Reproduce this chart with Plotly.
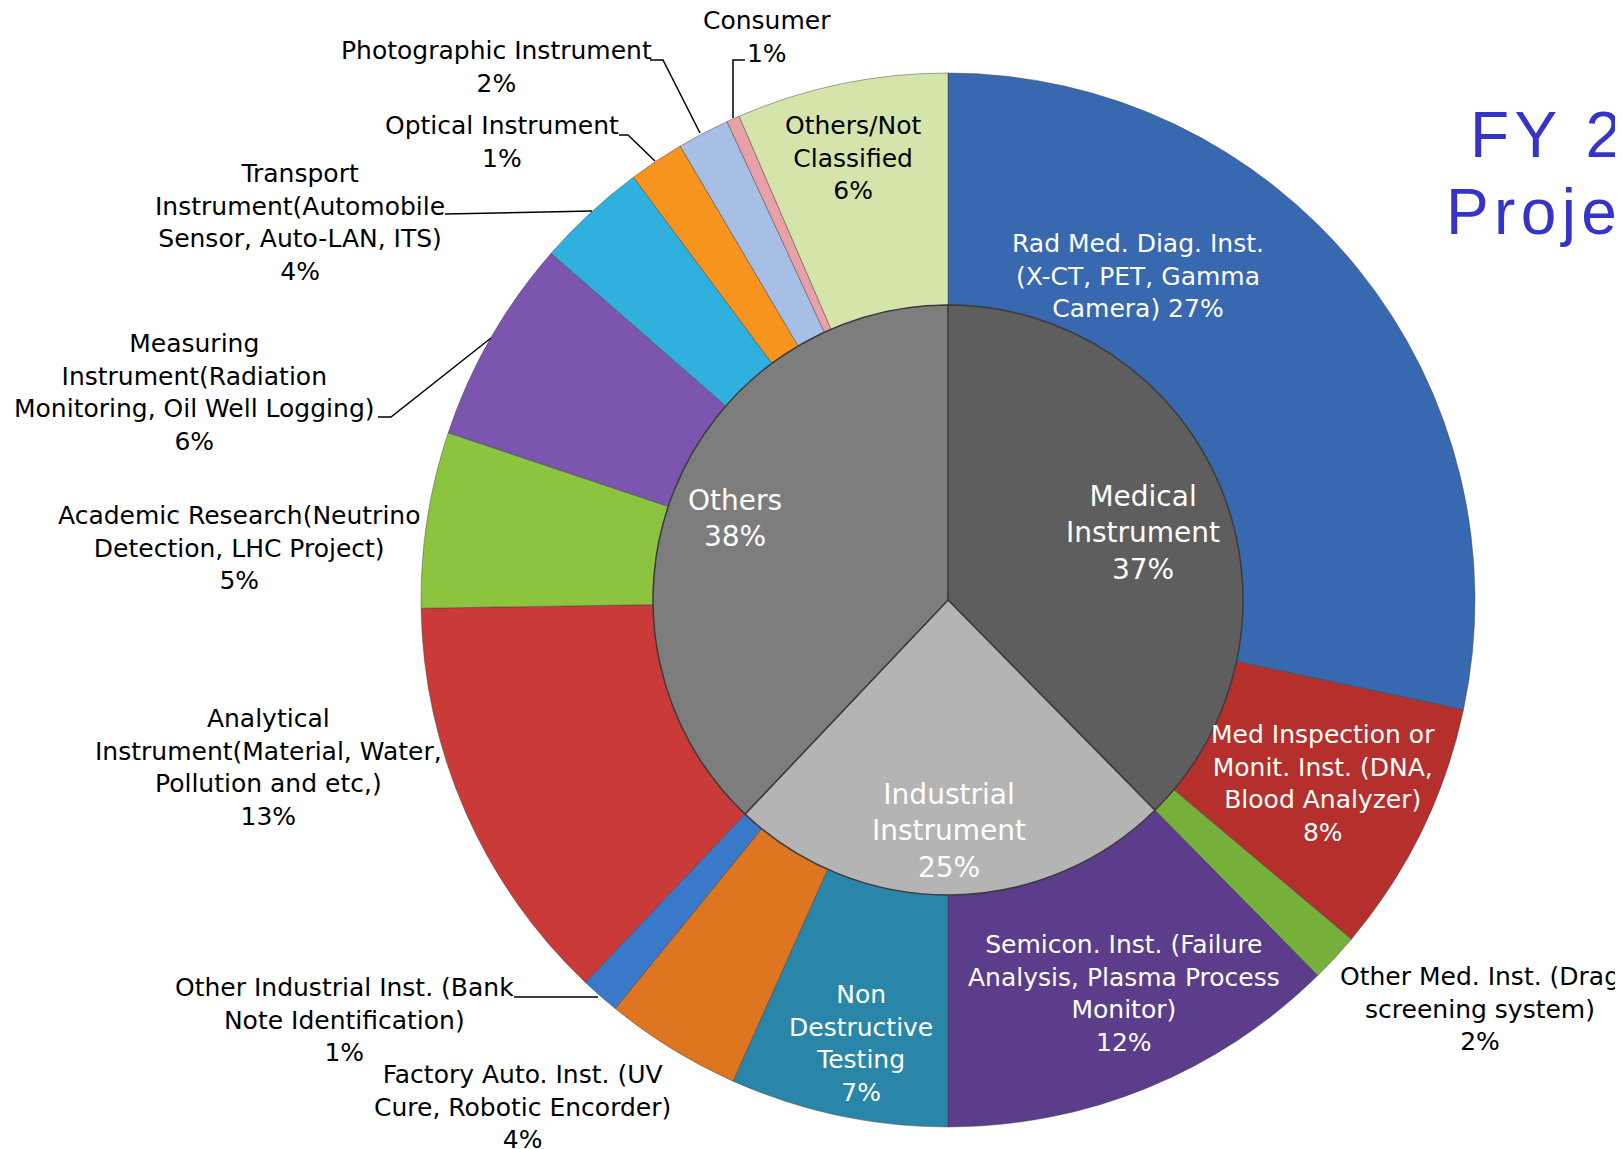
"""
Photodetector market breakdown: two-level pie (category / application).
"""

import plotly.graph_objects as go

W, H = 1623, 1149
PAGE_OFF = 8  # default body margin of the html page

# inner ring: market category
inner_labels = ["Medical<br>Instrument", "Industrial<br>Instrument", "Others"]
inner_values = [37.7, 24.5, 38.0]
inner_pct = [37, 25, 38]
inner_colors = ["#5e5e5e", "#b4b4b4", "#7d7d7d"]

# outer ring: application, clockwise from 12 o'clock
outer_labels = [
    "Rad Med. Diag. Inst.<br>(X-CT, PET, Gamma<br>Camera)",
    "Med Inspection or<br>Monit. Inst. (DNA,<br>Blood Analyzer)",
    "Other Med. Inst. (Drag<br>screening system)",
    "Semicon. Inst. (Failure<br>Analysis, Plasma Process<br>Monitor)",
    "Non<br>Destructive<br>Testing",
    "Factory Auto. Inst. (UV<br>Cure, Robotic Encorder)",
    "Other Industrial Inst. (Bank<br>Note Identification)",
    "Analytical<br>Instrument(Material, Water,<br>Pollution and etc,)",
    "Academic Research(Neutrino<br>Detection, LHC Project)",
    "Measuring<br>Instrument(Radiation<br>Monitoring, Oil Well Logging)",
    "Transport<br>Instrument(Automobile<br>Sensor, Auto-LAN, ITS)",
    "Optical Instrument",
    "Photographic Instrument",
    "Consumer",
    "Others/Not<br>Classified",
]
outer_values = [28.4, 7.8, 1.5, 12.4, 6.7, 4.2, 1.2, 12.7, 5.4, 6.3, 3.4, 1.7, 1.6, 0.4, 6.5]
outer_pct = [27, 8, 2, 12, 7, 4, 1, 13, 5, 6, 4, 1, 2, 1, 6]
outer_colors = [
    "#3768b0", "#b5302c", "#77b03a", "#5c3d8c", "#2a86a8",
    "#de7520", "#3a78c9", "#c93a38", "#8dc43f", "#7b55b0",
    "#30b0dc", "#f7941d", "#a8bfe5", "#e9a1a8", "#d4e4ab",
]

# label placement (pixel centre of text block) and text colour
outer_label_pos = [
    (1138, 276), (1323, 783), (1480, 1009), (1124, 993), (861, 1043),
    (522, 1107), (344, 1020), (268, 767), (240, 548), (194, 392),
    (300, 222), (502, 142), (496, 67), (767, 37), (853, 158),
]
outer_label_col = ["white", "white", "black", "white", "white",
                   "black", "black", "black", "black", "black",
                   "black", "black", "black", "black", "black"]
inner_label_pos = [(1143, 533), (949, 831), (735, 518)]

# leader lines (pixel polylines)
leaders = [
    [(514, 997), (598, 997)],
    [(378, 417), (391, 417), (491, 338)],
    [(445, 214), (592, 211)],
    [(619, 135), (628, 135), (655, 161)],
    [(650, 60), (663, 60), (700, 133)],
    [(745, 60), (733, 60), (733, 118)],
]

CX, CY, R_OUT, R_IN = 948, 600, 527, 295
FONT = "DejaVu Sans, Liberation Sans, Arial"


def px(x):
    return (x - PAGE_OFF) / W


def py(y):
    return 1 - (y - PAGE_OFF) / H


fig = go.Figure()

fig.add_trace(go.Pie(
    labels=outer_labels, values=outer_values,
    sort=False, direction="clockwise", rotation=0,
    hole=R_IN / R_OUT, textinfo="none",
    marker=dict(colors=outer_colors, line=dict(color="rgba(60,60,60,0.45)", width=1)),
    domain=dict(x=[px(CX - R_OUT), px(CX + R_OUT)], y=[py(CY + R_OUT), py(CY - R_OUT)]),
    showlegend=False, hoverinfo="label+percent",
))

fig.add_trace(go.Pie(
    labels=inner_labels, values=inner_values,
    sort=False, direction="clockwise", rotation=0, textinfo="none",
    marker=dict(colors=inner_colors, line=dict(color="#3c3c3c", width=1.5)),
    domain=dict(x=[px(CX - R_IN), px(CX + R_IN)], y=[py(CY + R_IN), py(CY - R_IN)]),
    showlegend=False, hoverinfo="label+percent",
))

annotations = []
for lab, pct, (x, y), col in zip(outer_labels, outer_pct, outer_label_pos, outer_label_col):
    sep = " " if lab.startswith("Rad Med") else "<br>"
    annotations.append(dict(
        text=f"{lab}{sep}{pct}%", x=px(x), y=py(y), xref="paper", yref="paper",
        xanchor="center", yanchor="middle", showarrow=False, align="center",
        font=dict(family=FONT, size=25, color=col),
    ))
for lab, pct, (x, y) in zip(inner_labels, inner_pct, inner_label_pos):
    annotations.append(dict(
        text=f"{lab}<br>{pct}%", x=px(x), y=py(y), xref="paper", yref="paper",
        xanchor="center", yanchor="middle", showarrow=False, align="center",
        font=dict(family=FONT, size=28, color="white"),
    ))

# title, partly cut off at the right edge
sp = "\u200a"
annotations.append(dict(
    text=sp.join("FY 2010"), x=px(1468), y=py(135), xref="paper", yref="paper",
    xanchor="left", yanchor="middle", showarrow=False,
    font=dict(family="Liberation Sans, Arial", size=64, color="#3434c8"),
))
annotations.append(dict(
    text=sp.join("Projection"), x=px(1444), y=py(212), xref="paper", yref="paper",
    xanchor="left", yanchor="middle", showarrow=False,
    font=dict(family="Liberation Sans, Arial", size=64, color="#3434c8"),
))

shapes = []
for pts in leaders:
    path = "M " + " L ".join(f"{px(x)},{py(y)}" for x, y in pts)
    shapes.append(dict(type="path", path=path, xref="paper", yref="paper",
                       line=dict(color="black", width=1.5)))

fig.update_layout(
    width=W, height=H,
    margin=dict(l=0, r=0, t=0, b=0),
    paper_bgcolor="white", plot_bgcolor="white",
    annotations=annotations, shapes=shapes,
)

fig.write_html("out.html")
